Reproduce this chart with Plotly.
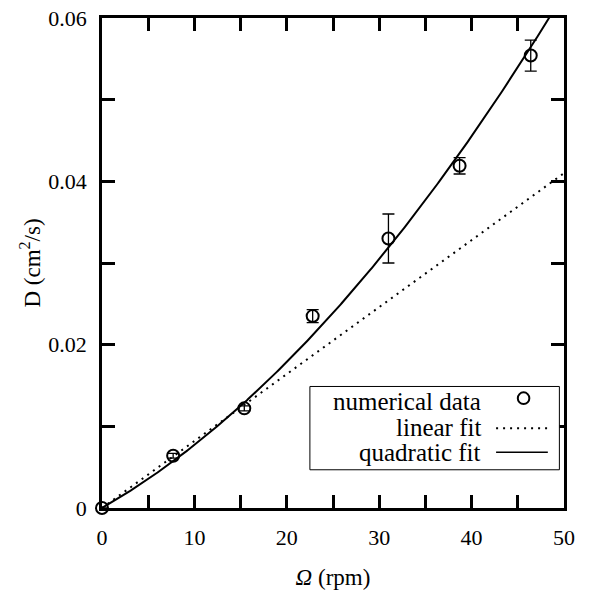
import numpy as np
import plotly.graph_objects as go

# Measured diffusion coefficient vs. rotation rate
omega = [0.0, 7.7, 15.4, 22.8, 31.0, 38.7, 46.4]
diff = [0.0, 0.0064, 0.0122, 0.0235, 0.0330, 0.0419, 0.0554]
diff_err = [0.0, 0.0003, 0.0003, 0.0008, 0.0030, 0.0010, 0.0019]

# Fit coefficients: linear D = c*Ω, quadratic D = a*Ω + b*Ω²
lin_c = 0.00082
quad_a = 0.00065
quad_b = 1.22e-5

x_major = 10
x_minor = 5
y_major = 0.02
y_minor = 0.01

legend_names = ["numerical data", "linear fit", "quadratic fit"]

FONT = "Liberation Serif"

om = np.linspace(0, 50, 400)
fig = go.Figure()

fig.add_trace(go.Scatter(
    x=om, y=lin_c * om, mode="lines",
    line=dict(color="black", width=2, dash="2px,5px"),
    showlegend=False, hoverinfo="skip"))

om_q = om[quad_a * om + quad_b * om ** 2 <= 0.0605]
fig.add_trace(go.Scatter(
    x=om_q, y=quad_a * om_q + quad_b * om_q ** 2, mode="lines",
    line=dict(color="black", width=2),
    showlegend=False, hoverinfo="skip"))

fig.add_trace(go.Scatter(
    x=omega, y=diff, mode="markers",
    marker=dict(symbol="circle-open", size=12, color="black",
                line=dict(width=2, color="black")),
    error_y=dict(type="data", array=diff_err, visible=True,
                 color="black", thickness=1.3, width=6),
    showlegend=False, cliponaxis=False))

axis_common = dict(
    showline=True, linecolor="black", linewidth=2.5, mirror="allticks",
    ticks="inside", ticklen=13, tickwidth=2.5, tickcolor="black",
    showgrid=False, zeroline=False, automargin=False,
    tickfont=dict(family=FONT, size=22, color="black"),
)

fig.update_xaxes(
    range=[0, 50], tick0=0, dtick=x_major,
    minor=dict(dtick=x_minor, ticks="inside", ticklen=13, tickwidth=2.5,
               tickcolor="black", showgrid=False),
    ticklabelstandoff=8,
    title=dict(text="<i>Ω</i> (rpm)", font=dict(family=FONT, size=23, color="black"),
               standoff=20),
    **axis_common)
fig.update_yaxes(
    range=[0, 0.06], tick0=0, dtick=y_major,
    minor=dict(dtick=y_minor, ticks="inside", ticklen=13, tickwidth=2.5,
               tickcolor="black", showgrid=False),
    ticklabelstandoff=8,
    title=dict(text="D (cm<sup>2</sup>/s)", font=dict(family=FONT, size=23, color="black"),
               standoff=2),
    **axis_common)

# Key box in the lower right corner
shapes = [
    dict(type="rect", xref="paper", yref="paper",
         x0=0.45, x1=0.99, y0=0.078, y1=0.248,
         line=dict(color="black", width=1), fillcolor="white", layer="above"),
    dict(type="circle", xref="paper", yref="paper",
         x0=0.9, x1=0.925, y0=0.212, y1=0.236,
         line=dict(color="black", width=2), layer="above"),
    dict(type="line", xref="paper", yref="paper",
         x0=0.853, x1=0.965, y0=0.163, y1=0.163,
         line=dict(color="black", width=2, dash="2px,5px"), layer="above"),
    dict(type="line", xref="paper", yref="paper",
         x0=0.853, x1=0.965, y0=0.114, y1=0.114,
         line=dict(color="black", width=1.5), layer="above"),
]
annotations = []
for name, yp in zip(legend_names, [0.218, 0.165, 0.114]):
    annotations.append(dict(
        text=name, xref="paper", yref="paper", x=0.825, y=yp,
        xanchor="right", yanchor="middle", showarrow=False,
        font=dict(family=FONT, size=25, color="black")))

fig.update_layout(
    width=595, height=591,
    margin=dict(l=102, r=31, t=18, b=83),
    plot_bgcolor="white", paper_bgcolor="white",
    shapes=shapes, annotations=annotations,
    showlegend=False,
)

fig.write_html("out.html")
